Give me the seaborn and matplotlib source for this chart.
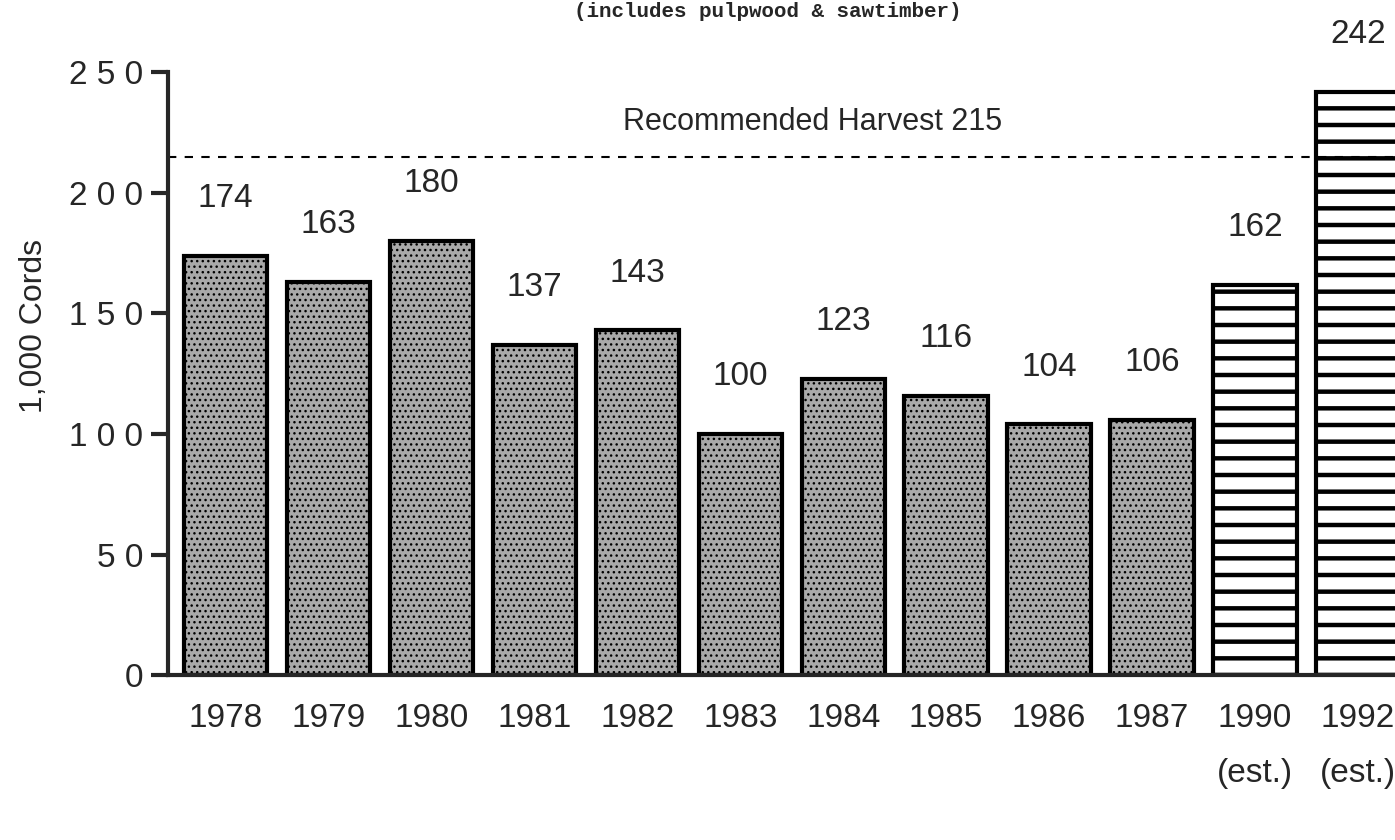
import matplotlib
matplotlib.use("Agg")
import matplotlib.pyplot as plt
import seaborn as sns
import pandas as pd

# harvest volumes, 1,000 cords
years = ["1978", "1979", "1980", "1981", "1982", "1983", "1984", "1985",
         "1986", "1987", "1990\n(est.)", "1992\n(est.)"]
cords = [174, 163, 180, 137, 143, 100, 123, 116, 104, 106, 162, 242]
estimated = [False] * 10 + [True, True]
recommended = 215
y_ticks = [0, 50, 100, 150, 200, 250]
y_tick_labels = ["0", "5 0", "1 0 0", "1 5 0", "2 0 0", "2 5 0"]

df = pd.DataFrame({"year": years, "cords": cords, "est": estimated})

sns.set_style("ticks")
plt.rcParams["font.family"] = ["Liberation Sans", "DejaVu Sans"]
plt.rcParams["hatch.linewidth"] = 1.0

fig = plt.figure(figsize=(13.95, 8.4), dpi=100)
ax = fig.add_axes([0.1204, 0.196, 0.8796, 0.718])

sns.barplot(data=df, x="year", y="cords", order=years, color="#a9a9a9",
            width=0.81, edgecolor="black", linewidth=3, saturation=1, ax=ax)

# stipple for actual harvests, heavy horizontal stripes for estimates
for patch, est in zip(ax.patches, df["est"]):
    if est:
        patch.set_facecolor("white")
        patch.set_hatch("-")
        if hasattr(patch, "set_hatch_linewidth"):
            patch.set_hatch_linewidth(3.2)
    else:
        patch.set_hatch("...")

for i, v in enumerate(cords):
    ax.annotate(str(v), (i, v), xytext=(0, 30), textcoords="offset points",
                ha="center", va="bottom", fontsize=24, annotation_clip=False)

ax.axhline(recommended, color="black", linestyle=(0, (4, 4)), linewidth=1.5)
ax.text(5.7, recommended + 8, f"Recommended Harvest {recommended}",
        ha="center", va="bottom", fontsize=22)

ax.set_ylim(0, 250)
ax.set_xlim(-0.56, 11.36)
ax.set_yticks(y_ticks)
ax.set_yticklabels(y_tick_labels, fontsize=24)
ax.tick_params(axis="y", length=12, width=3, pad=6)
ax.tick_params(axis="x", length=0, labelsize=24, pad=20)
for lbl in ax.get_xticklabels():
    lbl.set_linespacing(2.0)
ax.set_xlabel("")
ax.set_ylabel("1,000 Cords", fontsize=23, labelpad=14, y=0.58)

sns.despine(ax=ax)
ax.spines["left"].set_linewidth(3)
ax.spines["bottom"].set_linewidth(3)

fig.text(0.55, 0.998, "(includes pulpwood & sawtimber)", ha="center", va="top",
         fontsize=15, family="Liberation Mono", fontweight="bold")

fig.savefig("out.png", dpi=100)
